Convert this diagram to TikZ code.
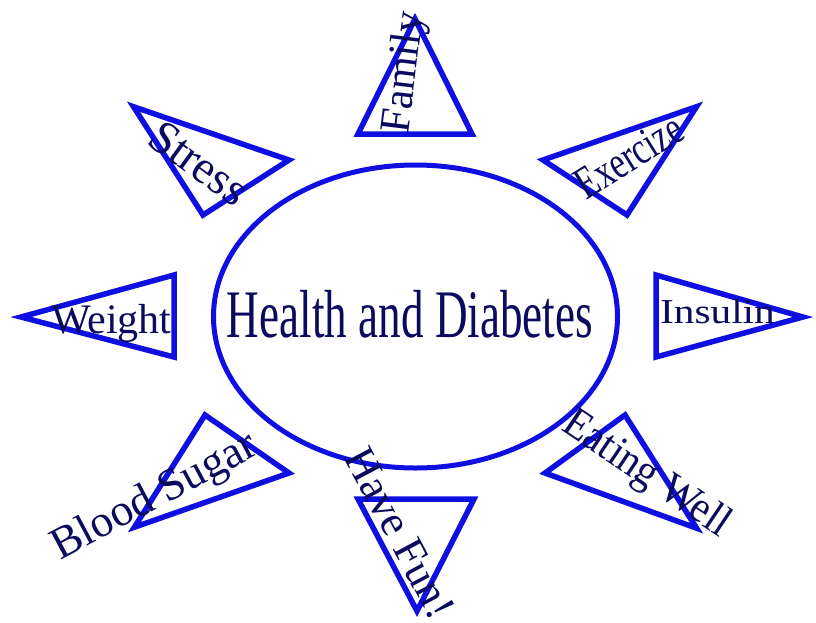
\documentclass[tikz,border=0pt]{standalone}
\usepackage{fontspec}
\setmainfont{Liberation Serif}
\usepackage{graphicx}
\usetikzlibrary{shapes.geometric}
\definecolor{rayblue}{RGB}{15,15,225}
\definecolor{inkblue}{RGB}{10,10,95}
\tikzset{
  ray/.style={draw=rayblue, line width=5.5pt, line join=miter},
  hubshape/.style={draw=rayblue, line width=5pt, ellipse, inner sep=0pt},
  lbl/.style={text=inkblue, inner sep=0pt, outer sep=0pt},
}
\newcommand{\lsz}[3]{\scalebox{#2}[1]{\fontsize{#1}{#1}\selectfont #3}}
\begin{document}
\begin{tikzpicture}[x=1pt,y=-1pt]
\useasboundingbox (0,0) rectangle (816,622);
% hub
\node[hubshape, minimum width=404pt, minimum height=303pt] (hub) at (415.5,316.5) {};
% triangles (rays)
\coordinate (fa1) at (415,19); \coordinate (fa2) at (358,134); \coordinate (fa3) at (472,134);
\draw[ray] (fa1) -- (fa2) -- (fa3) -- cycle;
\coordinate (ex1) at (696.5,106.7); \coordinate (ex2) at (543,160); \coordinate (ex3) at (627,215);
\draw[ray] (ex1) -- (ex2) -- (ex3) -- cycle;
\coordinate (in1) at (656,275); \coordinate (in2) at (656,357); \coordinate (in3) at (803,317);
\draw[ray] (in1) -- (in2) -- (in3) -- cycle;
\coordinate (ea1) at (625,415); \coordinate (ea2) at (545,473); \coordinate (ea3) at (696.6,528.2);
\draw[ray] (ea1) -- (ea2) -- (ea3) -- cycle;
\coordinate (hf1) at (358,499); \coordinate (hf2) at (474,499); \coordinate (hf3) at (417,611);
\draw[ray] (hf1) -- (hf2) -- (hf3) -- cycle;
\coordinate (bs1) at (205,415); \coordinate (bs2) at (289,473); \coordinate (bs3) at (134.4,527.2);
\draw[ray] (bs1) -- (bs2) -- (bs3) -- cycle;
\coordinate (we1) at (21,317); \coordinate (we2) at (174,275); \coordinate (we3) at (174,357);
\draw[ray] (we1) -- (we2) -- (we3) -- cycle;
\coordinate (st1) at (133.5,106.7); \coordinate (st2) at (289,160); \coordinate (st3) at (203,215);
\draw[ray] (st1) -- (st2) -- (st3) -- cycle;
% labels
\node[lbl, anchor=base] (hubtext) at (410,337) {\lsz{68}{0.664}{Health and Diabetes}};
\node[lbl, anchor=base, rotate=83] (family) at (416,74) {\lsz{43}{1}{Family}};
\node[lbl, anchor=center, rotate=32] (exercize) at (629,156) {\lsz{46}{0.74}{Exercize}};
\node[lbl, anchor=base] (insulin) at (717.5,323) {\lsz{35}{1.18}{Insulin}};
\node[lbl, anchor=center, rotate=-34] (eating) at (646,475) {\lsz{44}{0.93}{Eating Well}};
\node[lbl, anchor=center, rotate=-62] (havefun) at (400,533) {\lsz{44}{1}{Have Fun!}};
\node[lbl, anchor=base, rotate=28] (blood) at (160,507) {\lsz{45}{1}{Blood Sugar}};
\node[lbl, anchor=base] (weight) at (111.5,333) {\lsz{42}{1}{Weight}};
\node[lbl, anchor=center, rotate=-36] (stress) at (199,163) {\lsz{47}{0.98}{Stress}};
\end{tikzpicture}
\end{document}
